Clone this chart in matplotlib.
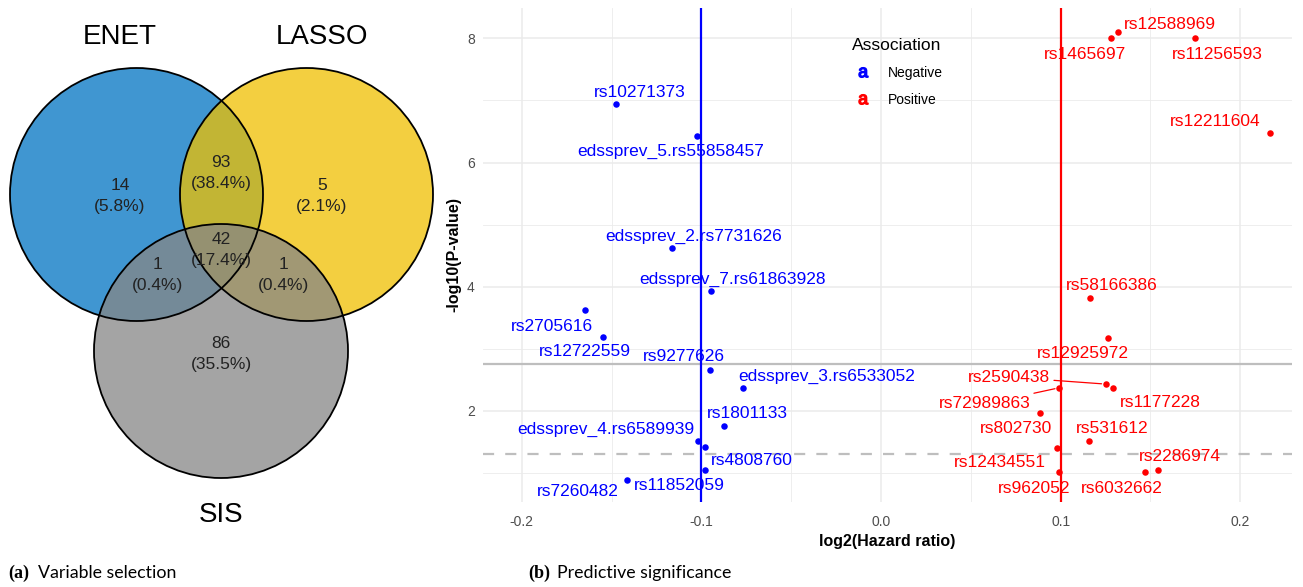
import numpy as np
import matplotlib.pyplot as plt
from matplotlib.patches import Circle
from matplotlib.lines import Line2D

plt.rcParams['font.family'] = ['Liberation Sans', 'DejaVu Sans']

# ---- Venn counts (variable selection) ----
set_names = ['ENET', 'LASSO', 'SIS']
set_colors = ['#0073C2', '#EFC000', '#868686']
region_names = ['ENET', 'LASSO', 'SIS', 'ENET&LASSO', 'ENET&SIS', 'LASSO&SIS', 'ENET&LASSO&SIS']
region_counts = [14, 5, 86, 93, 1, 1, 42]

# ---- SNP associations (log2 hazard ratio vs -log10 p) ----
neg_names = ['rs10271373', 'edssprev_5.rs55858457', 'edssprev_2.rs7731626',
             'edssprev_7.rs61863928', 'rs2705616', 'rs12722559', 'rs9277626',
             'edssprev_3.rs6533052', 'rs1801133', 'edssprev_4.rs6589939',
             'rs4808760', 'rs11852059', 'rs7260482']
neg_log2hr = [-0.1477, -0.1026, -0.1165, -0.0947, -0.1646, -0.1546, -0.0952,
              -0.0770, -0.0874, -0.1021, -0.0980, -0.0980, -0.1412]
neg_logp = [6.94, 6.43, 4.62, 3.93, 3.62, 3.19, 2.66,
            2.36, 1.76, 1.51, 1.42, 1.05, 0.88]

pos_names = ['rs12588969', 'rs1465697', 'rs11256593', 'rs12211604', 'rs58166386',
             'rs12925972', 'rs2590438', 'rs1177228', 'rs72989863', 'rs802730',
             'rs531612', 'rs12434551', 'rs962052', 'rs6032662', 'rs2286974']
pos_log2hr = [0.1318, 0.1279, 0.1750, 0.2168, 0.1164,
              0.1264, 0.1251, 0.1292, 0.0991, 0.0887,
              0.1158, 0.0980, 0.0991, 0.1470, 0.1544]
pos_logp = [8.10, 8.00, 8.00, 6.48, 3.82,
            3.18, 2.43, 2.37, 2.37, 1.97,
            1.51, 1.40, 1.01, 1.01, 1.05]

neg_mean = -0.1
pos_mean = 0.1
strict_cut = 2.75
p_cut = -np.log10(0.05)

# label offsets in pixels (dx, dy) so labels sit clear of the dots
neg_offsets = [(24, 12), (-26, -16), (22, 12), (22, 12), (-33, -16), (-18, -15),
               (-26, 13), (84, 12), (23, 12), (-92, 12), (47, -14), (-26, -16), (-50, -11)]
pos_offsets = [(52, 8), (-26, -16), (22, -16), (-55, 11), (22, 12),
               (-25, -16), (-97, 7), (47, -15), (-74, -16), (-24, -16),
               (23, 13), (-57, -14), (-25, -16), (-23, -16), (22, 13)]
segment_labels = ['edssprev_7.rs61863928', 'rs2590438', 'rs72989863']

fig = plt.figure(figsize=(13.03, 5.87), dpi=100)

# ---- (a) Venn diagram, drawn in pixel-like units ----
axv = fig.add_axes([0, 0, 443 / 1303, 1])
axv.set_xlim(0, 443)
axv.set_ylim(587, 0)
axv.axis('off')

centers = [(136.5, 194.5), (306.5, 194.5), (221, 351)]
radii = [126.5, 126.5, 127]
for (cx, cy), r, col in zip(centers, radii, set_colors):
    axv.add_patch(Circle((cx, cy), r, facecolor=col, alpha=0.75, edgecolor='none'))
for (cx, cy), r in zip(centers, radii):
    axv.add_patch(Circle((cx, cy), r, facecolor='none', edgecolor='black', lw=1.3))

name_pos = [(120, 37), (322, 37), (221, 515)]
for name, (x, y) in zip(set_names, name_pos):
    axv.text(x, y, name, ha='center', va='center', fontsize=20, color='black')

region_pos = {'ENET': (120, 196), 'LASSO': (322, 196), 'SIS': (221, 354),
              'ENET&LASSO': (221, 173), 'ENET&SIS': (158, 275),
              'LASSO&SIS': (284, 275), 'ENET&LASSO&SIS': (221, 250)}
total = sum(region_counts)
for name, n in zip(region_names, region_counts):
    x, y = region_pos[name]
    axv.text(x, y, f'{n}\n({100 * n / total:.1f}%)', ha='center', va='center',
             fontsize=12.5, color='#222222', linespacing=1.55)

# ---- (b) volcano-style plot ----
ax = fig.add_axes([483 / 1303, 85 / 587, 809 / 1303, 494 / 587])
ax.set_xlim(-0.2216, 0.2288)
ax.set_ylim(0.53, 8.49)
ax.set_xticks([-0.2, -0.1, 0.0, 0.1, 0.2])
ax.set_xticklabels(['-0.2', '-0.1', '0.0', '0.1', '0.2'])
ax.set_yticks([2, 4, 6, 8])
ax.set_xticks([-0.15, -0.05, 0.05, 0.15], minor=True)
ax.set_yticks([1, 3, 5, 7], minor=True)
ax.grid(True, which='major', color='#EBEBEB', lw=1.1)
ax.grid(True, which='minor', color='#EBEBEB', lw=0.6)
ax.set_axisbelow(True)
for s in ax.spines.values():
    s.set_visible(False)
ax.tick_params(which='both', length=0)
ax.tick_params(axis='x', labelsize=10, labelcolor='#4D4D4D', pad=9)
ax.tick_params(axis='y', labelsize=10, labelcolor='#4D4D4D', pad=6)
ax.set_xlabel('log2(Hazard ratio)', fontsize=11.5, fontweight='bold', labelpad=4)
ax.set_ylabel('-log10(P-value)', fontsize=11.5, fontweight='bold', labelpad=4)

ax.axhline(strict_cut, color='#BEBEBE', lw=1.6, zorder=1)
ax.axhline(p_cut, color='#BEBEBE', lw=1.6, ls=(0, (5, 5)), zorder=1)
ax.axvline(neg_mean, color='blue', lw=1.6, zorder=2)
ax.axvline(pos_mean, color='red', lw=1.6, zorder=2)

for names, xs, ys, offs, col in [(neg_names, neg_log2hr, neg_logp, neg_offsets, 'blue'),
                                 (pos_names, pos_log2hr, pos_logp, pos_offsets, 'red')]:
    ax.scatter(xs, ys, s=22, color=col, zorder=3, linewidths=0)
    for name, x, y, (dx, dy) in zip(names, xs, ys, offs):
        kw = {}
        if name in segment_labels:
            kw['arrowprops'] = dict(arrowstyle='-', color=col, lw=0.9,
                                    shrinkA=1, shrinkB=3)
        ax.annotate(name, (x, y), xytext=(dx, dy), textcoords='offset pixels',
                    ha='center', va='center', fontsize=12.5, color=col, zorder=4, **kw)

handles = [Line2D([], [], marker=r'$\mathregular{a}$', color='blue', ls='none', markersize=7),
           Line2D([], [], marker=r'$\mathregular{a}$', color='red', ls='none', markersize=7)]
leg = fig.legend(handles, ['Negative', 'Positive'], title='Association',
                 loc='upper left', bbox_to_anchor=(839 / 1303, 1 - 25 / 587),
                 frameon=False, fontsize=10, title_fontsize=12.5,
                 handlelength=1.65, handletextpad=1.0, labelspacing=0.95,
                 alignment='left')

# ---- captions ----
fig.text(8 / 1303, 1 - 573 / 587, '(a)', fontsize=13, fontweight='bold',
         family='Liberation Serif', va='center')
fig.text(38 / 1303, 1 - 573 / 587, 'Variable selection', fontsize=12.8,
         family='Lato', va='center')
fig.text(528 / 1303, 1 - 573 / 587, '(b)', fontsize=13, fontweight='bold',
         family='Liberation Serif', va='center')
fig.text(557 / 1303, 1 - 573 / 587, 'Predictive significance', fontsize=12.8,
         family='Lato', va='center')

fig.savefig('out.png', dpi=100)
